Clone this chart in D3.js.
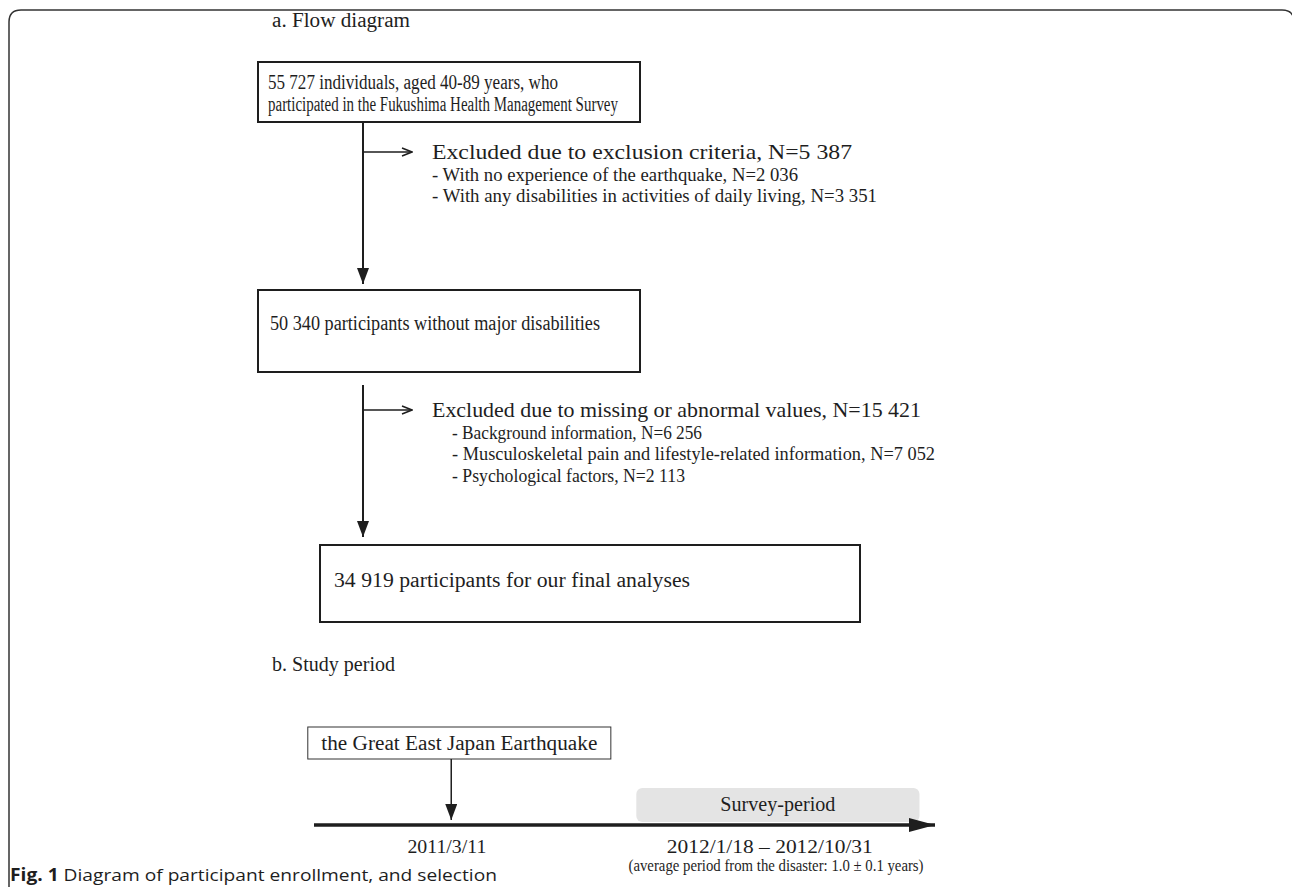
<!DOCTYPE html>
<html>
<head>
<meta charset="utf-8">
<script src="https://cdn.jsdelivr.net/npm/d3@7"></script>
<style>
  body { margin: 0; background: #fff; }
  svg { display: block; }
</style>
</head>
<body>
<svg id="plotCanvas"></svg>
<script>
// ---- data ----
var sectionTitles = ["a. Flow diagram", "b. Study period"];

var boxTexts = [
    ["55 727 individuals, aged 40-89 years, who", "participated in the Fukushima Health Management Survey"],
    ["50 340 participants without major disabilities"],
    ["34 919 participants for our final analyses"]
];

var exclusionHeads = [
    "Excluded due to exclusion criteria, N=5 387",
    "Excluded due to missing or abnormal values, N=15 421"
];

var exclusionItems = [
    ["- With no experience of the earthquake, N=2 036",
     "- With any disabilities in activities of daily living, N=3 351"],
    ["- Background information, N=6 256",
     "- Musculoskeletal pain and lifestyle-related information, N=7 052",
     "- Psychological factors, N=2 113"]
];

var eventLabels = ["the Great East Japan Earthquake"];
var periodLabels = ["Survey-period"];
var dateLabels = ["2011/3/11", "2012/1/18 \u2013 2012/10/31"];
var periodNotes = ["(average period from the disaster: 1.0 \u00b1 0.1 years)"];

var captionBold = "Fig. 1";
var captionText = " Diagram of participant enrollment, and selection";

// ---- layout ----
var canvasWidth = 1292, canvasHeight = 887;
var serif = "'Liberation Serif', 'Times New Roman', serif";
var ink = "#1e1e1e";

var boxes = [
    {x: 258, y: 62, w: 382, h: 60, tx: 268, ty: 89, size: 20, fitW: [290, 350]},
    {x: 258, y: 290, w: 382, h: 82, tx: 270, ty: 330, size: 20, fitW: [330]},
    {x: 320, y: 545, w: 540, h: 77, tx: 334, ty: 587, size: 20, fitW: [356]}
];
var arrows = [
    {x: 363, y1: 122, y2: 284, branchY: 152, headX: 432, headY: 159, itemX: 432,
     headW: 420, itemW: [366, 445]},
    {x: 363, y1: 385, y2: 537, branchY: 410, headX: 432, headY: 417, itemX: 452,
     headW: 489, itemW: [250, 483, 233]}
];
var lineGap = 21.5;

// squeeze or stretch a text to a measured width
function fitText(sel, w)
{
    if(w)
        sel.attr("textLength", w).attr("lengthAdjust", "spacingAndGlyphs");
}

var canvas = d3.select("#plotCanvas")
    .attr("width", canvasWidth)
    .attr("height", canvasHeight);

var defs = canvas.append("defs");
defs.append("marker")
    .attr("id", "solidHead")
    .attr("viewBox", "0 0 16 12")
    .attr("refX", 16).attr("refY", 6)
    .attr("markerWidth", 16).attr("markerHeight", 12)
    .attr("markerUnits", "userSpaceOnUse")
    .attr("orient", "auto")
    .append("path").attr("d", "M0,0 L16,6 L0,12 Z").attr("fill", ink);
defs.append("marker")
    .attr("id", "openHead")
    .attr("viewBox", "0 0 12 10")
    .attr("refX", 11).attr("refY", 5)
    .attr("markerWidth", 12).attr("markerHeight", 10)
    .attr("markerUnits", "userSpaceOnUse")
    .attr("orient", "auto")
    .append("path").attr("d", "M1,1 L11,5 L1,9").attr("fill", "none")
    .attr("stroke", ink).attr("stroke-width", 1.5);
defs.append("marker")
    .attr("id", "bigHead")
    .attr("viewBox", "0 0 26 14")
    .attr("refX", 26).attr("refY", 7)
    .attr("markerWidth", 26).attr("markerHeight", 14)
    .attr("markerUnits", "userSpaceOnUse")
    .attr("orient", "auto")
    .append("path").attr("d", "M0,0 L26,7 L0,14 Z").attr("fill", ink);

// outer frame, open at the bottom, right side runs off the picture
var r = 12;
canvas.append("path")
    .attr("d", "M9," + (canvasHeight + 5) + " L9," + (10 + r) + " Q9,10 " + (9 + r) + ",10 L" + (canvasWidth - 10) + ",10 Q" + (canvasWidth + 2) + ",10 " + (canvasWidth + 2) + "," + (10 + r))
    .attr("fill", "none")
    .attr("stroke", "#333")
    .attr("stroke-width", 1.5);

// section titles
canvas.selectAll("text.section")
    .data(sectionTitles)
    .enter().append("text")
    .attr("class", "section")
    .attr("x", 272)
    .attr("y", function(d, i) { return i == 0 ? 27 : 671; })
    .attr("font-family", serif)
    .attr("font-size", "20px")
    .attr("fill", ink)
    .text(function(d) { return d; })
    .each(function(d, i) { fitText(d3.select(this), i == 0 ? 138 : 123); });

// flow boxes
var boxG = canvas.selectAll("g.box")
    .data(boxTexts)
    .enter().append("g")
    .attr("class", "box");

boxG.append("rect")
    .attr("x", function(d, i) { return boxes[i].x; })
    .attr("y", function(d, i) { return boxes[i].y; })
    .attr("width", function(d, i) { return boxes[i].w; })
    .attr("height", function(d, i) { return boxes[i].h; })
    .attr("fill", "#fff")
    .attr("stroke", ink)
    .attr("stroke-width", 2);

boxG.each(function(d, i) {
    d3.select(this).selectAll("text")
        .data(d)
        .enter().append("text")
        .attr("x", boxes[i].tx)
        .attr("y", function(t, j) { return boxes[i].ty + j * lineGap; })
        .attr("font-family", serif)
        .attr("font-size", boxes[i].size + "px")
        .attr("fill", ink)
        .text(function(t) { return t; })
        .each(function(t, j) { fitText(d3.select(this), boxes[i].fitW[j]); });
});

// down arrows with side branches and exclusion notes
var arrowG = canvas.selectAll("g.arrow")
    .data(exclusionHeads)
    .enter().append("g")
    .attr("class", "arrow");

arrowG.append("line")
    .attr("x1", function(d, i) { return arrows[i].x; })
    .attr("x2", function(d, i) { return arrows[i].x; })
    .attr("y1", function(d, i) { return arrows[i].y1; })
    .attr("y2", function(d, i) { return arrows[i].y2; })
    .attr("stroke", ink)
    .attr("stroke-width", 2)
    .attr("marker-end", "url(#solidHead)");

arrowG.append("line")
    .attr("x1", function(d, i) { return arrows[i].x; })
    .attr("x2", function(d, i) { return arrows[i].headX - 20; })
    .attr("y1", function(d, i) { return arrows[i].branchY; })
    .attr("y2", function(d, i) { return arrows[i].branchY; })
    .attr("stroke", ink)
    .attr("stroke-width", 1.5)
    .attr("marker-end", "url(#openHead)");

arrowG.append("text")
    .attr("x", function(d, i) { return arrows[i].headX; })
    .attr("y", function(d, i) { return arrows[i].headY; })
    .attr("font-family", serif)
    .attr("font-size", "21px")
    .attr("fill", ink)
    .text(function(d) { return d; })
    .each(function(d, i) { fitText(d3.select(this), arrows[i].headW); });

arrowG.each(function(d, i) {
    d3.select(this).selectAll("text.item")
        .data(exclusionItems[i])
        .enter().append("text")
        .attr("class", "item")
        .attr("x", arrows[i].itemX)
        .attr("y", function(t, j) { return arrows[i].headY + (j + 1) * lineGap; })
        .attr("font-family", serif)
        .attr("font-size", "19px")
        .attr("fill", ink)
        .text(function(t) { return t; })
        .each(function(t, j) { fitText(d3.select(this), arrows[i].itemW[j]); });
});

// ---- study period timeline ----
var timeX = d3.scaleLinear().domain([0, 1]).range([314, 935]);
var lineY = 825;

// survey period band
canvas.selectAll("rect.period")
    .data(periodLabels)
    .enter().append("rect")
    .attr("class", "period")
    .attr("x", timeX(0.519))
    .attr("y", 788)
    .attr("width", timeX(0.975) - timeX(0.519))
    .attr("height", lineY - 788 - 3)
    .attr("rx", 6)
    .attr("fill", "#e4e4e4");

canvas.selectAll("text.period")
    .data(periodLabels)
    .enter().append("text")
    .attr("class", "period")
    .attr("x", (timeX(0.519) + timeX(0.975)) / 2)
    .attr("y", 811)
    .attr("text-anchor", "middle")
    .attr("font-family", serif)
    .attr("font-size", "20px")
    .attr("fill", ink)
    .text(function(d) { return d; })
    .call(fitText, 115);

canvas.append("line")
    .attr("x1", timeX(0))
    .attr("x2", timeX(1))
    .attr("y1", lineY)
    .attr("y2", lineY)
    .attr("stroke", ink)
    .attr("stroke-width", 3.5)
    .attr("marker-end", "url(#bigHead)");

// earthquake event box
var eqG = canvas.selectAll("g.event")
    .data(eventLabels)
    .enter().append("g")
    .attr("class", "event");

eqG.append("rect")
    .attr("x", timeX(-0.01))
    .attr("y", 727)
    .attr("width", timeX(0.478) - timeX(-0.01))
    .attr("height", 32)
    .attr("fill", "#fff")
    .attr("stroke", "#333")
    .attr("stroke-width", 1);

eqG.append("text")
    .attr("x", (timeX(-0.01) + timeX(0.478)) / 2)
    .attr("y", 750)
    .attr("text-anchor", "middle")
    .attr("font-family", serif)
    .attr("font-size", "20px")
    .attr("fill", ink)
    .text(function(d) { return d; })
    .call(fitText, 276);

eqG.append("line")
    .attr("x1", timeX(0.221))
    .attr("x2", timeX(0.221))
    .attr("y1", 759)
    .attr("y2", lineY - 5)
    .attr("stroke", ink)
    .attr("stroke-width", 1.5)
    .attr("marker-end", "url(#solidHead)");

canvas.selectAll("text.date")
    .data(dateLabels)
    .enter().append("text")
    .attr("class", "date")
    .attr("x", function(d, i) { return i == 0 ? timeX(0.214) : timeX(0.734); })
    .attr("y", 853)
    .attr("text-anchor", "middle")
    .attr("font-family", serif)
    .attr("font-size", "19px")
    .attr("fill", ink)
    .text(function(d) { return d; })
    .each(function(d, i) { fitText(d3.select(this), i == 0 ? 79 : 206); });

canvas.selectAll("text.note")
    .data(periodNotes)
    .enter().append("text")
    .attr("class", "note")
    .attr("x", timeX(0.744))
    .attr("y", 871)
    .attr("text-anchor", "middle")
    .attr("font-family", serif)
    .attr("font-size", "16px")
    .attr("fill", ink)
    .text(function(d) { return d; })
    .call(fitText, 295);

// caption
var cap = canvas.append("text")
    .attr("x", 10)
    .attr("y", 881)
    .attr("font-family", "'Open Sans', 'Noto Sans', sans-serif")
    .attr("font-size", "17px")
    .attr("fill", ink)
    .attr("textLength", 487)
    .attr("lengthAdjust", "spacingAndGlyphs");
cap.append("tspan").attr("font-weight", "bold").text(captionBold);
cap.append("tspan").text(captionText);
</script>
</body>
</html>
